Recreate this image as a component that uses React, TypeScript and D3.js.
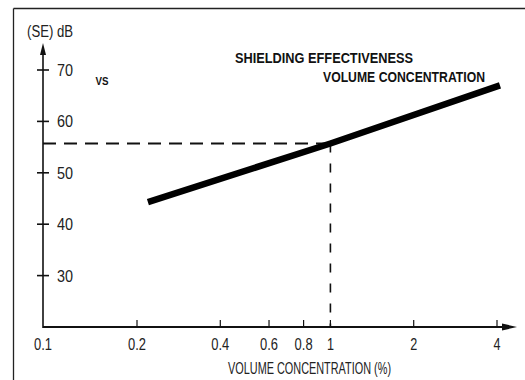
import React from "react";
import * as d3 from "d3";

const xTicks = [0.1, 0.2, 0.4, 0.6, 0.8, 1, 2, 4];
const xTickLabels = ["0.1", "0.2", "0.4", "0.6", "0.8", "1", "2", "4"];
const yTicks = [30, 40, 50, 60, 70];
const concentration = [0.219, 1, 4.1];
const shielding = [44.3, 55.7, 67];
const refX = 1;
const refY = 55.7;

const W = 525;
const H = 380;
const FONT = "'Liberation Sans', Arial, sans-serif";

export default function App() {
  const x = d3.scaleLog().domain([0.1, 0.2, 4]).range([43, 137, 497]);
  const y = d3.scaleLinear().domain([20, 70]).range([327, 70]);
  const x0 = x(0.1);
  const y0 = y(20);
  const line = d3
    .line<number>()
    .x((_, i) => x(concentration[i]))
    .y((d) => y(d));

  return (
    <svg
      width={W}
      height={H}
      style={{ position: "absolute", left: 0, top: 0, background: "#fff" }}
      fontFamily={FONT}
    >
      {/* frame */}
      <line x1={13.5} y1={8.5} x2={W} y2={8.5} stroke="#222" strokeWidth={1.3} />
      <line x1={13.5} y1={8.5} x2={13.5} y2={H} stroke="#222" strokeWidth={1.3} />

      {/* y axis */}
      <line x1={x0} y1={y0 + 1} x2={x0} y2={52} stroke="#111" strokeWidth={1.6} />
      <path d={`M${x0},43 L${x0 - 3},55 L${x0 + 3},55 Z`} fill="#111" />
      {yTicks.map((t) => (
        <g key={t}>
          <line x1={x0 - 6} x2={x0 + 6} y1={y(t)} y2={y(t)} stroke="#111" strokeWidth={1.6} />
          <text x={x0 + 14} y={y(t) + 6} fontSize={16} fill="#222" textLength={16} lengthAdjust="spacingAndGlyphs">
            {t}
          </text>
        </g>
      ))}

      {/* x axis */}
      <line x1={x0} y1={y0} x2={505} y2={y0} stroke="#111" strokeWidth={1.8} />
      <path d={`M517,${y0} L502,${y0 - 3.5} L502,${y0 + 3.5} Z`} fill="#111" />
      {xTicks.map((t, i) => (
        <g key={t}>
          {i > 0 && (
            <line x1={x(t)} x2={x(t)} y1={y0} y2={y0 - 7} stroke="#111" strokeWidth={1.2} />
          )}
          <text
            x={x(t)}
            y={y0 + 23}
            fontSize={16}
            textAnchor="middle"
            fill="#222"
            textLength={String(xTickLabels[i]).length > 1 ? 18 : 7}
            lengthAdjust="spacingAndGlyphs"
          >
            {xTickLabels[i]}
          </text>
        </g>
      ))}

      {/* reference dashed lines */}
      <line
        x1={x0}
        y1={y(refY)}
        x2={x(refX)}
        y2={y(refY)}
        stroke="#111"
        strokeWidth={2}
        strokeDasharray="13,8"
      />
      <line
        x1={x(refX)}
        y1={y(refY)}
        x2={x(refX)}
        y2={y0}
        stroke="#111"
        strokeWidth={1.6}
        strokeDasharray="9,11"
      />

      {/* data line */}
      <path d={line(shielding) || ""} fill="none" stroke="#000" strokeWidth={6.5} />

      {/* labels */}
      <text x={27} y={37} fontSize={16} fill="#222" textLength={46} lengthAdjust="spacingAndGlyphs">
        (SE) dB
      </text>
      <text x={228} y={y0 + 47} fontSize={16.5} fill="#222" textLength={163} lengthAdjust="spacingAndGlyphs">
        VOLUME CONCENTRATION (%)
      </text>
      <text x={235} y={63} fontSize={14} fontWeight="bold" fill="#111" textLength={178} lengthAdjust="spacingAndGlyphs">
        SHIELDING EFFECTIVENESS
      </text>
      <text x={95.5} y={84.5} fontSize={11.5} fontWeight="bold" fill="#111" textLength={13} lengthAdjust="spacingAndGlyphs">
        VS
      </text>
      <text x={323} y={82} fontSize={14} fontWeight="bold" fill="#111" textLength={162} lengthAdjust="spacingAndGlyphs">
        VOLUME CONCENTRATION
      </text>
    </svg>
  );
}
